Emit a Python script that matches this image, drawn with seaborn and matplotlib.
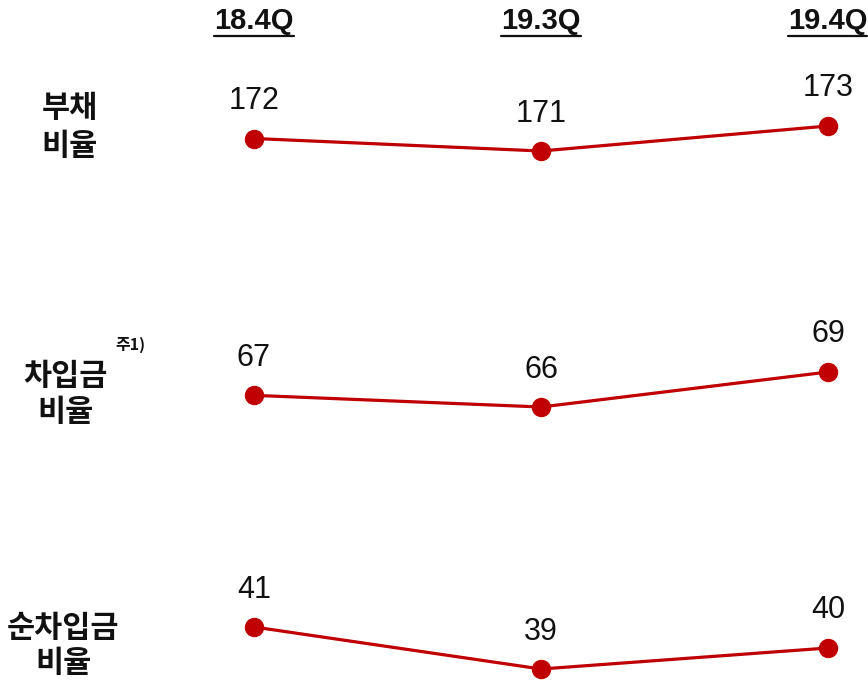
import matplotlib
matplotlib.use("Agg")
import matplotlib.pyplot as plt
import matplotlib.transforms as mtransforms
from matplotlib.lines import Line2D
import seaborn as sns
import pandas as pd

sns.set_theme(style="white")
plt.rcParams['font.family'] = ['Liberation Sans Narrow', 'Liberation Sans', 'DejaVu Sans']

periods = ["18.4Q", "19.3Q", "19.4Q"]
row_names = ["부채\n비율", "차입금\n비율", "순차입금\n비율"]
debt_ratio = [172, 171, 173]
borrow_ratio = [67, 66, 69]
net_borrow_ratio = [41, 39, 40]
series = [debt_ratio, borrow_ratio, net_borrow_ratio]

RED = "#C00000"
W, H = 868, 684
fig = plt.figure(figsize=(W / 100, H / 100), dpi=100)

# pixel layout (top, bottom) of each row's value range
row_px = [(126, 151), (372, 407), (627, 669)]
x_left, x_right = 254, 828
label_y = [(108, 146), (376, 412), (628, 663)]

axes = []
for vals, (ytop, ybot) in zip(series, row_px):
    ax = fig.add_axes([x_left / W, 1 - ybot / H, (x_right - x_left) / W, (ybot - ytop) / H])
    df = pd.DataFrame({"x": range(len(periods)), "v": vals})
    sns.lineplot(data=df, x="x", y="v", ax=ax, color=RED, lw=2.3, marker="o",
                 markersize=14, markeredgewidth=0, clip_on=False)
    ax.set_xlim(0, len(periods) - 1)
    ax.set_ylim(min(vals), max(vals))
    ax.axis("off")
    for i, v in enumerate(vals):
        ax.annotate(str(v), (i, v), xytext=(0, 27), textcoords="offset points",
                    ha="center", va="center", fontsize=22, color="#111111")
    axes.append(ax)

# header labels
trans = mtransforms.blended_transform_factory(axes[0].transData, fig.transFigure)
hdrs = []
for i, p in enumerate(periods):
    t = fig.text(i, 1 - 21 / H, p, transform=trans, ha="center", va="center",
                 fontsize=21, fontweight="bold", color="#111111")
    hdrs.append(t)
fig.canvas.draw()
r = fig.canvas.get_renderer()
for t in hdrs:
    bb = t.get_window_extent(r)
    yl = bb.y0 - 1
    x1 = min(bb.x1, W - 1)
    fig.add_artist(Line2D([bb.x0 / W, x1 / W], [yl / H, yl / H], color="#111111",
                          lw=1.6, transform=fig.transFigure))

# row labels
kfont = ['Noto Sans CJK KR', 'DejaVu Sans']
xc = [70, 65, 63]
for name, (y1, y2), x in zip(row_names, label_y, xc):
    l1, l2 = name.split("\n")
    fig.text(x / W, 1 - y1 / H, l1, ha="center", va="center", fontsize=22,
             fontweight="bold", family=kfont, color="#111111")
    fig.text(x / W, 1 - y2 / H, l2, ha="center", va="center", fontsize=22,
             fontweight="bold", family=kfont, color="#111111")
fig.text(130 / W, 1 - 345 / H, "주1)", ha="center", va="center", fontsize=11.5,
         fontweight="bold", family=kfont, color="#111111")

fig.savefig("out.png", dpi=100)
